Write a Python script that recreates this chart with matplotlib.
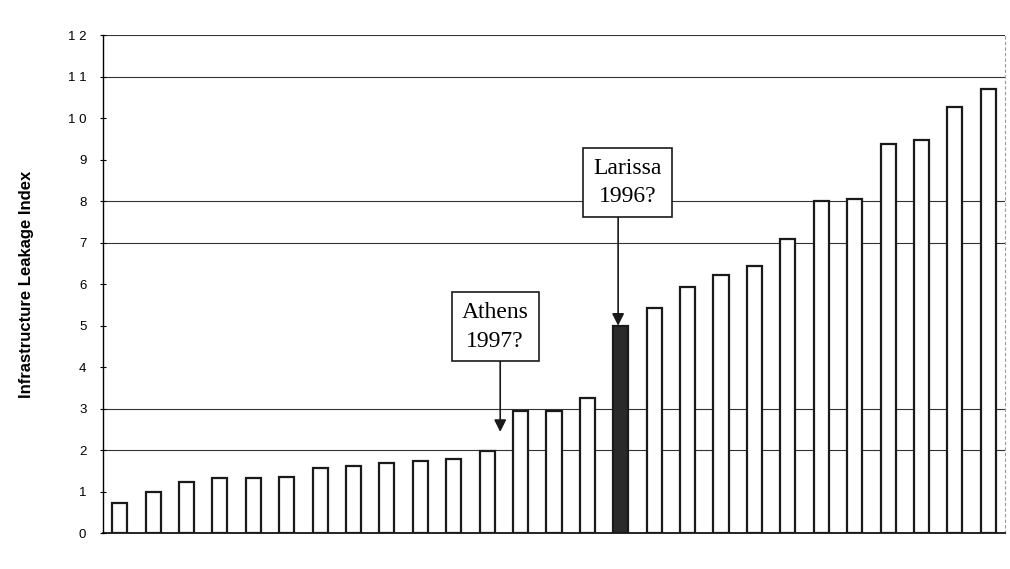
"""Infrastructure Leakage Index bar chart with Athens / Larissa callouts."""

import matplotlib

matplotlib.use("Agg")

import matplotlib.pyplot as plt
import numpy as np

ili_values = [0.72, 0.99, 1.23, 1.33, 1.33, 1.35, 1.57, 1.61, 1.69, 1.73, 1.78, 1.98,
              2.94, 2.94, 3.25, 4.99, 5.42, 5.93, 6.22, 6.43, 7.08, 8.0, 8.05,
              9.37, 9.47, 10.27, 10.71]
highlight_index = 15
grid_levels = [2, 3, 7, 8, 11, 12]
y_ticks = list(range(0, 13))
y_tick_labels = [" ".join(str(t)) for t in y_ticks]

# callouts: label, box centre, arrow x, arrow start y, arrow tip y
athens_label = "Athens\n1997?"
athens_box = (11.24, 4.97)
athens_arrow = (11.39, 4.17, 2.44)
larissa_label = "Larissa\n1996?"
larissa_box = (15.2, 8.45)
larissa_arrow = (14.92, 7.66, 5.0)

fig = plt.figure(figsize=(10.1, 5.69), dpi=100)
ax = fig.add_axes([0.102, 0.063, 0.893, 0.875])

x = np.arange(len(ili_values))
colors = ["white"] * len(ili_values)
colors[highlight_index] = "#2a2a2a"
ax.bar(x, ili_values, width=0.45, color=colors, edgecolor="#1a1a1a",
       linewidth=1.6, zorder=3)

for level in grid_levels:
    ax.axhline(level, color="#333333", linewidth=0.8, zorder=1)

ax.set_xlim(-0.5, len(ili_values) - 0.5)
ax.set_ylim(0, 12)
ax.set_xticks([])
ax.set_yticks(y_ticks)
ax.set_yticklabels(y_tick_labels, fontsize=9.5, family="Liberation Sans")
ax.tick_params(axis="y", direction="inout", length=4, width=0.8, pad=10)

ax.spines["top"].set_visible(False)
ax.spines["right"].set_color("#9a9a9a")
ax.spines["right"].set_linestyle((0, (2, 3)))
ax.spines["left"].set_linewidth(1.0)
ax.spines["bottom"].set_linewidth(1.2)

ax.set_ylabel("Infrastructure Leakage Index", fontsize=12, fontweight="bold",
              family="Liberation Sans", labelpad=24)

box_style = dict(boxstyle="square,pad=0.42", facecolor="white",
                 edgecolor="#1a1a1a", linewidth=1.2)
arrow_style = dict(arrowstyle="-|>", color="#1a1a1a", linewidth=1.2,
                   mutation_scale=18, shrinkA=0, shrinkB=0)
for label, box, arrow in [(athens_label, athens_box, athens_arrow),
                          (larissa_label, larissa_box, larissa_arrow)]:
    ax.text(box[0], box[1], label, ha="center", va="center", fontsize=17,
            family="Liberation Serif", linespacing=1.45, bbox=box_style, zorder=6)
    ax.annotate("", xy=(arrow[0], arrow[2]), xytext=(arrow[0], arrow[1]),
                arrowprops=arrow_style, zorder=5)

fig.savefig("out.png", dpi=100)
